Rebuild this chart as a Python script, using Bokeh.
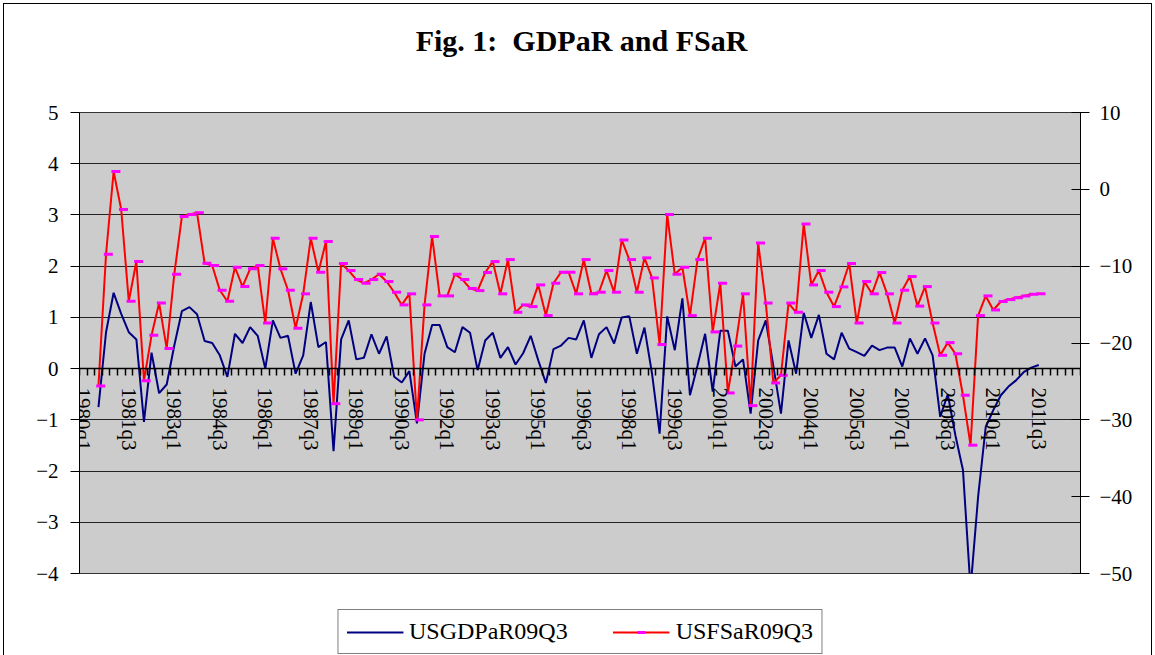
from bokeh.plotting import figure
from bokeh.layouts import column
from bokeh.models import Range1d, LinearAxis, FixedTicker, Legend, LegendItem, ColumnDataSource, Div
from bokeh.transform import dodge
from bokeh.embed import file_html
from bokeh.resources import INLINE

# ---- categories (quarters) ----
years = list(range(1980, 2013))
quarters = [f"{y}q{q}" for y in years for q in range(1, 5)]

tick_labels = ["1980q1", "1981q3", "1983q1", "1984q3", "1986q1", "1987q3", "1989q1",
               "1990q3", "1992q1", "1993q3", "1995q1", "1996q3", "1998q1", "1999q3",
               "2001q1", "2002q3", "2004q1", "2005q3", "2007q1", "2008q3", "2010q1", "2011q3"]

first_quarter = "1980q3"

# ---- series values (1980q3 .. 2011q3) ----
us_gdpar = [
    -0.75, 0.71, 1.48, 1.07, 0.71, 0.57, -1.04, 0.31, -0.48, -0.31,
    0.45, 1.12, 1.20, 1.06, 0.54, 0.50, 0.26, -0.16, 0.68, 0.50,
    0.81, 0.64, 0.00, 0.94, 0.60, 0.64, -0.10, 0.26, 1.30, 0.42,
    0.52, -1.61, 0.57, 0.94, 0.18, 0.21, 0.67, 0.29, 0.63, -0.16,
    -0.27, -0.05, -1.07, 0.29, 0.85, 0.85, 0.42, 0.32, 0.81, 0.70,
    -0.03, 0.55, 0.70, 0.21, 0.42, 0.08, 0.30, 0.64, 0.16, -0.28,
    0.38, 0.45, 0.60, 0.57, 0.94, 0.21, 0.67, 0.81, 0.49, 1.00,
    1.02, 0.29, 0.80, -0.10, -1.27, 1.02, 0.36, 1.37, -0.52, 0.06,
    0.68, -0.45, 0.74, 0.74, 0.04, 0.18, -0.88, 0.55, 0.94, 0.05,
    -0.88, 0.55, -0.10, 1.09, 0.60, 1.05, 0.29, 0.18, 0.70, 0.39,
    0.32, 0.25, 0.45, 0.36, 0.41, 0.41, 0.04, 0.59, 0.29, 0.59,
    0.26, -0.94, -0.50, -1.30, -1.98, -4.30, -2.50, -1.14, -0.81, -0.52,
    -0.35, -0.23, -0.07, 0.02, 0.07,
]

us_fsar = [
    -25.6, -8.45, 2.32, -2.63, -14.57, -9.40, -24.9, -19.0, -14.8, -20.7,
    -11.05, -3.54, -3.28, -3.06, -9.62, -9.92, -13.13, -14.57, -10.14, -12.66,
    -10.35, -9.92, -17.4, -6.36, -10.35, -13.13, -18.08, -13.6, -6.36, -10.79,
    -6.8, -27.9, -9.66, -10.57, -11.74, -12.22, -11.74, -11.05, -12.0, -13.39,
    -15.04, -13.6, -30.0, -15.04, -6.15, -13.87, -13.87, -11.05, -11.74, -12.9,
    -13.18, -10.83, -9.40, -13.6, -9.14, -16.0, -15.04, -15.26, -12.44, -16.43,
    -12.22, -10.79, -10.79, -13.6, -9.14, -13.6, -13.39, -10.57, -13.39, -6.58,
    -9.14, -13.39, -8.92, -11.53, -20.2, -3.28, -11.05, -10.14, -16.43, -9.14,
    -6.36, -18.56, -12.22, -26.5, -20.4, -13.6, -28.15, -7.0, -14.8, -25.2,
    -24.2, -14.8, -16.0, -4.5, -12.44, -10.57, -13.39, -15.26, -12.7, -9.66,
    -17.4, -12.0, -13.6, -10.83, -13.6, -17.4, -13.13, -11.35, -15.2, -12.66,
    -17.4, -21.6, -19.95, -21.4, -26.8, -33.3, -16.43, -13.87, -15.7, -14.6,
    -14.35, -14.1, -13.87, -13.66, -13.6,
]

series_names = ["USGDPaR09Q3", "USFSaR09Q3"]
title_text = "Fig. 1:&nbsp; GDPaR and FSaR"

start = quarters.index(first_quarter)
xs = list(range(start, start + len(us_gdpar)))
src = ColumnDataSource(dict(x=xs, gdp=us_gdpar, fs=us_fsar))

FONT = "Liberation Serif"
BLUE, RED, MAGENTA = "#000080", "#FF0000", "#FF00FF"

title = Div(text=f'<div style="padding-top:24px; position:relative; left:4px; '
                 f'font-family:\'{FONT}\'; font-size:30px; font-weight:bold; '
                 f'text-align:center; color:black; line-height:1.1;">{title_text}</div>',
            width=1155, height=80, margin=0, styles={"text-align": "center"})

p = figure(width=1155, height=507, output_backend="svg", toolbar_location=None,
           x_range=Range1d(-0.5, len(quarters) - 0.5), y_range=Range1d(-4, 5),
           x_axis_location=None, margin=0,
           min_border_left=79, min_border_right=75, min_border_top=32, min_border_bottom=14,
           background_fill_color="#CCCCCC", border_fill_color="white", border_fill_alpha=0.0)
p.outline_line_color = "#333333"

p.extra_y_ranges = {"fs": Range1d(-50, 10)}

# left axis
left_ticker = FixedTicker(ticks=list(range(-4, 6)))
ya = p.yaxis[0]
ya.ticker = left_ticker
ya.major_tick_out = 9
ya.major_tick_in = 0
ya.minor_tick_out = 0
ya.minor_tick_in = 0
ya.axis_line_color = "black"
ya.major_tick_line_color = "black"
ya.major_label_text_font = FONT
ya.major_label_text_font_size = "21px"
ya.major_label_text_color = "black"
ya.major_label_standoff = 12
p.ygrid.ticker = left_ticker
p.ygrid.grid_line_color = "#222222"
p.ygrid.grid_line_width = 1
p.xgrid.visible = False

# right axis
ra = LinearAxis(y_range_name="fs", ticker=FixedTicker(ticks=list(range(-50, 11, 10))),
                major_tick_out=9, major_tick_in=9, minor_tick_out=0, minor_tick_in=0,
                axis_line_color="black", major_tick_line_color="black",
                major_label_text_font=FONT, major_label_text_font_size="21px",
                major_label_text_color="black", major_label_standoff=10)
p.add_layout(ra, "right")

# category axis crossing at zero
label_pos = [quarters.index(t) for t in tick_labels]
xa = LinearAxis(fixed_location=0,
                ticker=FixedTicker(ticks=label_pos,
                                   minor_ticks=[k - 0.5 for k in range(len(quarters) + 1)]),
                major_label_overrides={pos: lab for pos, lab in zip(label_pos, tick_labels)},
                major_label_orientation="vertical",
                major_tick_out=0, major_tick_in=0, minor_tick_out=7, minor_tick_in=0,
                axis_line_color="black", axis_line_width=1.5,
                minor_tick_line_color="black", minor_tick_line_width=1.5,
                major_label_text_font=FONT, major_label_text_font_size="21px",
                major_label_text_color="black", major_label_standoff=12)
p.add_layout(xa, "below")

p.line("x", "gdp", source=src, line_color=BLUE, line_width=2)
p.line("x", "fs", source=src, y_range_name="fs", line_color=RED, line_width=2)
p.scatter(dodge("x", 0.3, range=p.x_range), "fs", source=src, y_range_name="fs",
          marker="dash", size=9, line_color=MAGENTA, line_width=3)

# ---- legend strip below the chart ----
lf = figure(width=1155, height=68, output_backend="svg", toolbar_location=None,
            x_range=Range1d(0, 1), y_range=Range1d(0, 1), margin=0,
            x_axis_location=None, y_axis_location=None, min_border=0,
            outline_line_color=None, background_fill_alpha=0.0, border_fill_alpha=0.0)
lf.grid.visible = False
nan = float("nan")
placeholder = ColumnDataSource(dict(x=[nan], y=[nan]))  # legend swatches only
lg1 = lf.line("x", "y", source=placeholder, line_color=BLUE, line_width=2)
lg2 = lf.line("x", "y", source=placeholder, line_color=RED, line_width=2)
lg3 = lf.scatter("x", "y", source=placeholder, marker="dash", size=9,
                 line_color=MAGENTA, line_width=3)
legend = Legend(items=[LegendItem(label=series_names[0], renderers=[lg1]),
                       LegendItem(label=series_names[1], renderers=[lg2, lg3])],
                orientation="horizontal", location="bottom_center", margin=1,
                label_text_font=FONT, label_text_font_size="24px", label_text_color="black",
                glyph_width=57, glyph_height=20, label_standoff=6, spacing=45, padding=8,
                border_line_color="black", border_line_width=1, background_fill_color="white",
                background_fill_alpha=1.0)
lf.add_layout(legend, "center")

layout = column(title, p, lf, spacing=0, margin=0,
                styles={"box-shadow": "inset 3px 3px 0 0 white, inset -3px 0 0 0 white, "
                                      "inset 4px 4px 0 0 black, inset -4px 0 0 0 black",
                        "background-color": "white"})

open("out.html", "w").write(file_html(layout, INLINE))
